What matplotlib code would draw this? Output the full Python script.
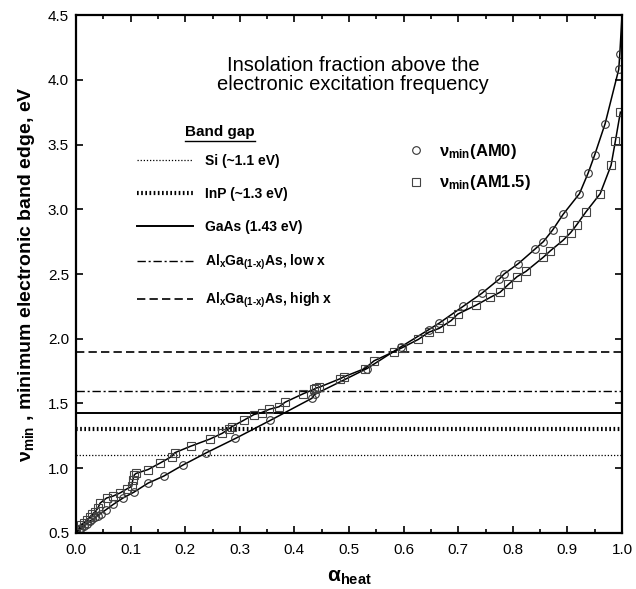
import numpy as np
import matplotlib
matplotlib.use('Agg')
from matplotlib import pyplot as plt
from matplotlib.lines import Line2D
from matplotlib.ticker import MultipleLocator

plt.rcParams['font.family'] = ['Liberation Sans', 'DejaVu Sans']
plt.rcParams['mathtext.fontset'] = 'custom'
plt.rcParams['mathtext.rm'] = 'Liberation Sans'
plt.rcParams['mathtext.it'] = 'Liberation Sans'
plt.rcParams['mathtext.bf'] = 'Liberation Sans:bold'

# nu_min(AM0) -- circles
x_am0 = [0.0, 0.005, 0.01, 0.015, 0.02, 0.025, 0.03, 0.035, 0.04, 0.045, 0.055,
         0.068, 0.086, 0.106, 0.132, 0.161, 0.196, 0.239, 0.292, 0.356, 0.432,
         0.437, 0.533, 0.596, 0.646, 0.665, 0.709, 0.743, 0.775, 0.784, 0.81,
         0.84, 0.856, 0.873, 0.892, 0.922, 0.938, 0.95, 0.969, 0.994, 0.996, 1.0]
y_am0 = [0.50, 0.52, 0.54, 0.555, 0.57, 0.59, 0.605, 0.62, 0.635, 0.65, 0.68,
         0.72, 0.77, 0.815, 0.885, 0.94, 1.025, 1.12, 1.23, 1.37, 1.54,
         1.57, 1.77, 1.94, 2.07, 2.12, 2.25, 2.35, 2.46, 2.50, 2.58,
         2.69, 2.75, 2.84, 2.96, 3.12, 3.28, 3.42, 3.66, 4.08, 4.20, 4.5]

# nu_min(AM1.5) -- squares
x_am15 = [0.0, 0.005, 0.01, 0.015, 0.02, 0.025, 0.03, 0.035, 0.04, 0.044, 0.056,
          0.068, 0.081, 0.093, 0.102, 0.104, 0.107, 0.11, 0.132, 0.154, 0.175,
          0.181, 0.21, 0.245, 0.268, 0.28, 0.285, 0.307, 0.326, 0.34, 0.354,
          0.372, 0.383, 0.416, 0.436, 0.44, 0.445, 0.483, 0.49, 0.529, 0.546,
          0.582, 0.597, 0.627, 0.646, 0.665, 0.687, 0.699, 0.733, 0.759, 0.777,
          0.792, 0.808, 0.824, 0.856, 0.869, 0.892, 0.906, 0.917, 0.934, 0.96,
          0.98, 0.988, 0.997]
y_am15 = [0.50, 0.53, 0.56, 0.58, 0.60, 0.62, 0.645, 0.665, 0.69, 0.73, 0.77,
          0.785, 0.81, 0.84, 0.86, 0.91, 0.95, 0.96, 0.99, 1.04, 1.09,
          1.12, 1.17, 1.225, 1.27, 1.305, 1.32, 1.37, 1.415, 1.43, 1.455,
          1.475, 1.51, 1.575, 1.61, 1.62, 1.625, 1.69, 1.705, 1.77, 1.83,
          1.90, 1.93, 1.995, 2.05, 2.08, 2.14, 2.19, 2.26, 2.32, 2.36,
          2.42, 2.48, 2.52, 2.63, 2.68, 2.76, 2.82, 2.88, 2.98, 3.12,
          3.34, 3.53, 3.75]

# band gaps
gap_names = ['Si (~1.1 eV)', 'InP (~1.3 eV)', 'GaAs (1.43 eV)',
             'Al$_{\\mathbf{x}}$Ga$_{\\mathbf{(1‐x)}}$As, low x',
             'Al$_{\\mathbf{x}}$Ga$_{\\mathbf{(1‐x)}}$As, high x']
gap_values = [1.1, 1.3, 1.43, 1.6, 1.9]
gap_styles = [(0, (1, 1.5)), (0, (0.4, 0.6)), '-', (0, (6, 2, 1.5, 2)), (0, (5, 2.5))]
gap_widths = [0.9, 3.0, 1.4, 1.0, 1.2]

fig = plt.figure(figsize=(6.36, 5.89), dpi=100)
ax = fig.add_axes([0.1195, 0.0951, 0.8585, 0.8794])

gap_handles = []
for v, st, lw in zip(gap_values, gap_styles, gap_widths):
    h = ax.axhline(v, color='black', linestyle=st, lw=lw)
    gap_handles.append(h)

n0 = len(x_am0)
l0, = ax.plot(x_am0, y_am0, color='black', lw=1.1, marker='o', ms=5.5,
              mfc='none', mec='#333333', mew=0.8, markevery=list(range(n0 - 1)))
l1, = ax.plot(x_am15, y_am15, color='black', lw=1.1, marker='s', ms=5.5,
              mfc='none', mec='#444444', mew=0.8)

ax.set_xlim(0, 1.0)
ax.set_ylim(0.5, 4.5)
ax.xaxis.set_major_locator(MultipleLocator(0.1))
ax.xaxis.set_minor_locator(MultipleLocator(0.05))
ax.yaxis.set_major_locator(MultipleLocator(0.5))
ax.xaxis.set_major_formatter(plt.FormatStrFormatter('%.1f'))
ax.yaxis.set_major_formatter(plt.FormatStrFormatter('%.1f'))
ax.tick_params(which='both', direction='in', top=True, right=True, width=1.2)
ax.tick_params(which='major', length=5, labelsize=11)
ax.tick_params(which='minor', length=3)
ax.tick_params(axis='x', pad=7)
ax.tick_params(axis='y', pad=5)
for s in ax.spines.values():
    s.set_linewidth(1.6)

ax.set_xlabel('α$_{\\mathbf{heat}}$', fontsize=15, fontweight='bold', labelpad=8)
ax.set_ylabel('ν$_{\\mathbf{min}}$ , minimum electronic band edge, eV',
              fontsize=14, fontweight='bold', labelpad=8)

ax.text(0.507, 0.885, 'Insolation fraction above the\nelectronic excitation frequency',
        transform=ax.transAxes, ha='center', va='center', fontsize=14.5,
        linespacing=1.0)

bg = ax.text(0.264, 0.774, 'Band gap', transform=ax.transAxes,
             ha='center', va='center', fontsize=11, fontweight='bold')

leg1 = ax.legend(gap_handles, gap_names, loc='upper left',
                 bbox_to_anchor=(0.112, 0.731), frameon=False, borderpad=0,
                 borderaxespad=0, handlelength=4.0, handletextpad=0.9,
                 labelspacing=1.35, prop={'weight': 'bold', 'size': 10})
ax.add_artist(leg1)

h0 = Line2D([], [], ls='none', marker='o', ms=5.5, mfc='none', mec='#333333', mew=0.8)
h1 = Line2D([], [], ls='none', marker='s', ms=5.5, mfc='none', mec='#444444', mew=0.8)
ax.legend([h0, h1], ['ν$_{\\mathbf{min}}$(AM0)', 'ν$_{\\mathbf{min}}$(AM1.5)'],
          loc='upper left', bbox_to_anchor=(0.61, 0.755), frameon=False,
          borderpad=0, borderaxespad=0, handlelength=0.8, handletextpad=1.0,
          labelspacing=0.75, prop={'weight': 'bold', 'size': 12})

# underline "Band gap"
fig.canvas.draw()
bb = bg.get_window_extent().transformed(ax.transAxes.inverted())
ax.plot([bb.x0, bb.x1], [bb.y0 - 0.004, bb.y0 - 0.004], color='black', lw=1.0,
        transform=ax.transAxes)

fig.savefig('out.png', dpi=100)
